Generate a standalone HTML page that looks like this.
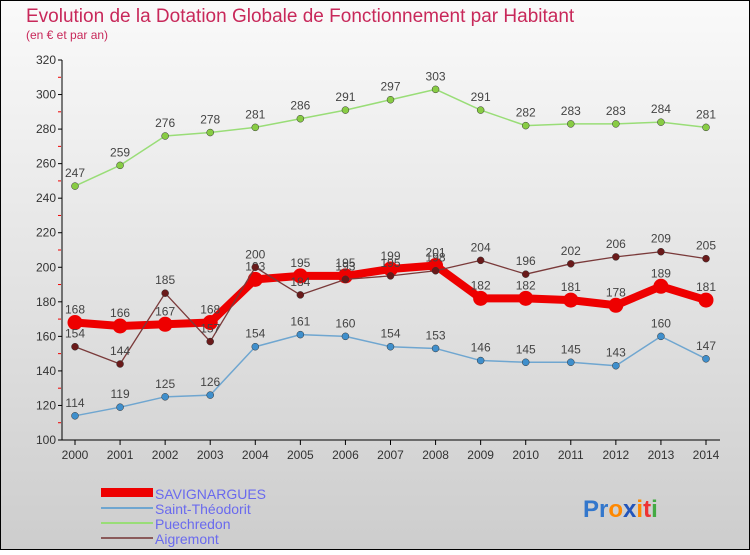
<!DOCTYPE html>
<html><head><meta charset="utf-8"><style>
html,body{margin:0;padding:0}
body{width:750px;height:550px;overflow:hidden;font-family:"Liberation Sans",sans-serif}
</style></head><body>
<svg width="750" height="550" xmlns="http://www.w3.org/2000/svg">
<defs><linearGradient id="bg" x1="0" y1="0" x2="0" y2="1"><stop offset="0" stop-color="#fafafa"/><stop offset="1" stop-color="#cdcdcd"/></linearGradient></defs>
<rect x="0.5" y="0.5" width="749" height="549" fill="url(#bg)" stroke="#000"/>
<text x="26" y="22" font-size="19" fill="#c8285a">Evolution de la Dotation Globale de Fonctionnement par Habitant</text>
<text x="26" y="39" font-size="12" fill="#c8285a">(en € et par an)</text>
<g id="axes"></g><g id="series"></g>
<g>
<rect x="101" y="488" width="52" height="9" fill="#ee0000"/>
<text x="155" y="499" font-size="14" fill="#6a6aee">SAVIGNARGUES</text>
<rect x="101" y="507" width="52" height="2" fill="#6fa6d0"/>
<text x="155" y="514" font-size="14" fill="#6a6aee">Saint-Théodorit</text>
<rect x="101" y="522" width="52" height="2" fill="#99dd77"/>
<text x="155" y="529" font-size="14" fill="#6a6aee">Puechredon</text>
<rect x="101" y="537" width="52" height="2" fill="#8a5a5a"/>
<text x="155" y="544" font-size="14" fill="#6a6aee">Aigremont</text>
</g>
<text x="583" y="517" font-size="24" font-weight="bold"><tspan fill="#3377cc">Pr</tspan><tspan fill="#ff8800">o</tspan><tspan fill="#2255bb">x</tspan><tspan fill="#ff8800">i</tspan><tspan fill="#ee3333">t</tspan><tspan fill="#44aa44">i</tspan></text>
</svg>
<script>
const years=[2000,2001,2002,2003,2004,2005,2006,2007,2008,2009,2010,2011,2012,2013,2014];
const yTicks=[100,120,140,160,180,200,220,240,260,280,300,320];
const savignargues=[168,166,167,168,193,195,195,199,201,182,182,181,178,189,181];
const saintTheodorit=[114,119,125,126,154,161,160,154,153,146,145,145,143,160,147];
const puechredon=[247,259,276,278,281,286,291,297,303,291,282,283,283,284,281];
const aigremont=[154,144,185,157,200,184,193,195,198,204,196,202,206,209,205];
const NS="http://www.w3.org/2000/svg";
const xs=i=>75+i*(706-75)/14;
const ys=v=>440-(v-100)*380/220;
function mk(t,a,p){const e=document.createElementNS(NS,t);for(const k in a)e.setAttribute(k,a[k]);p.appendChild(e);return e;}
const ax=document.getElementById('axes');
const yl=mk('line',{x1:62,y1:60,x2:62,y2:440,stroke:'#000'},ax);


const xl=mk('line',{x1:62,y1:440,x2:720,y2:440,stroke:'#000'},ax);


yTicks.forEach(v=>{const y=ys(v);
mk('line',{x1:58,y1:y,x2:62,y2:y,stroke:'#000'},ax);
if(v<320){const ym=ys(v+10);mk('line',{x1:58,y1:ym,x2:61,y2:ym,stroke:'#e00'},ax);}
const t=mk('text',{x:56,y:y+4,'font-size':12,'text-anchor':'end',fill:'#333'},ax);t.textContent=v;

});
years.forEach((yr,i)=>{const x=xs(i);
mk('line',{x1:x,y1:440,x2:x,y2:445,stroke:'#000'},ax);
const t=mk('text',{x:x,y:459,'font-size':12,'text-anchor':'middle',fill:'#333'},ax);t.textContent=yr;

});
const sg=document.getElementById('series');
function series(name,data,color,w,r,dot){
const g=mk('g',{},sg);


const pl=mk('polyline',{points:data.map((v,i)=>xs(i)+','+ys(v)).join(' '),fill:'none',stroke:color,'stroke-width':w,'stroke-linejoin':'round'},g);


data.forEach((v,i)=>{const c=mk('circle',{cx:xs(i),cy:ys(v),r:r,fill:dot,stroke:dot==='#ee0000'?'none':'#333','stroke-width':0.5},g);


const t=mk('text',{x:xs(i),y:ys(v)-9,'font-size':12,'text-anchor':'middle',fill:'#444'},g);t.textContent=v;

});}
series('puechredon',puechredon,'#99dd77',1.5,3.5,'#88cc44');
series('saint-theodorit',saintTheodorit,'#6fa6d0',1.5,3.5,'#3f8fcc');
series('savignargues',savignargues,'#ee0000',8,7.5,'#ee0000');
series('aigremont',aigremont,'#7a3a3a',1.3,3.5,'#6a1a1a');
</script>
</body></html>
